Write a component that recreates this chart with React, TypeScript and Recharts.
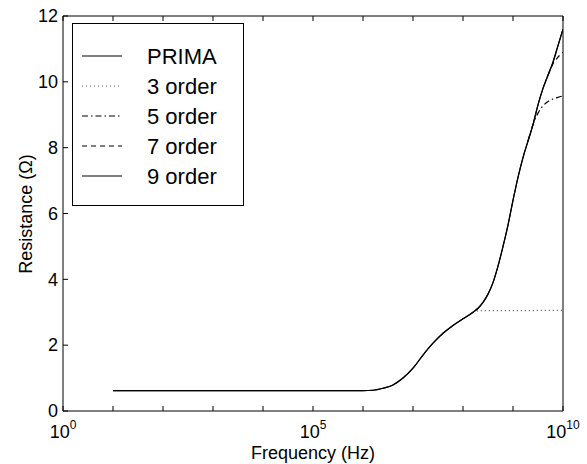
import { LineChart, Line, XAxis, YAxis, Legend } from "recharts";

// log10 of frequency (Hz) for each sample
const exponents = [1, 2, 3, 4, 5, 5.5, 6, 6.2, 6.4, 6.6, 6.8, 7, 7.2, 7.4, 7.6, 7.8, 8, 8.2, 8.3, 8.4, 8.5, 8.6, 8.7, 8.8, 8.9, 9, 9.1, 9.2, 9.3, 9.4, 9.5, 9.6, 9.7, 9.8, 9.9, 10];

const prima = [0.62, 0.62, 0.62, 0.62, 0.62, 0.62, 0.62, 0.63, 0.69, 0.79, 1.0, 1.3, 1.7, 2.06, 2.36, 2.6, 2.8, 3.0, 3.12, 3.3, 3.55, 3.9, 4.4, 5.0, 5.65, 6.4, 7.1, 7.7, 8.2, 8.7, 9.3, 9.8, 10.2, 10.6, 11.1, 11.6];
const order3 = [null, null, null, null, null, null, null, null, null, null, null, null, null, null, null, null, null, 3.0, 3.04, 3.05, 3.05, 3.05, 3.05, 3.05, 3.05, 3.05, 3.05, 3.05, 3.05, 3.05, 3.06, 3.06, 3.06, 3.06, 3.06, 3.06];
const order5 = [null, null, null, null, null, null, null, null, null, null, null, null, null, null, null, null, null, null, null, null, null, null, null, null, null, null, null, null, 8.2, 8.7, 9.05, 9.27, 9.4, 9.48, 9.53, 9.57];
const order7 = [null, null, null, null, null, null, null, null, null, null, null, null, null, null, null, null, null, null, null, null, null, null, null, null, null, null, null, null, null, null, null, null, 10.2, 10.55, 10.75, 10.9];
// 9th order lies on top of PRIMA everywhere
const order9 = [0.62, 0.62, 0.62, 0.62, 0.62, 0.62, 0.62, 0.63, 0.69, 0.79, 1.0, 1.3, 1.7, 2.06, 2.36, 2.6, 2.8, 3.0, 3.12, 3.3, 3.55, 3.9, 4.4, 5.0, 5.65, 6.4, 7.1, 7.7, 8.2, 8.7, 9.3, 9.8, 10.2, 10.6, 11.1, 11.6];

const xTicks = [1, 1e1, 1e2, 1e3, 1e4, 1e5, 1e6, 1e7, 1e8, 1e9, 1e10];
const xLabeled = [0, 5, 10];
const yTicks = [0, 2, 4, 6, 8, 10, 12];

const series = [
  { key: "prima", name: "PRIMA", dash: undefined, color: "#000" },
  { key: "order3", name: "3 order", dash: "1 3", color: "#555" },
  { key: "order5", name: "5 order", dash: "6 3 1.5 3", color: "#000" },
  { key: "order7", name: "7 order", dash: "5 4", color: "#000" },
  { key: "order9", name: "9 order", dash: undefined, color: "#000" }
];

const data = exponents.map((e, i) => ({
  f: Math.pow(10, e),
  prima: prima[i],
  order3: order3[i],
  order5: order5[i],
  order7: order7[i],
  order9: order9[i]
}));

const FONT = "'Liberation Sans', Arial, Helvetica, sans-serif";

function BottomTick({ x, y, payload }: any) {
  const exp = Math.round(Math.log10(payload.value));
  return (
    <g>
      <line x1={x} x2={x} y1={y} y2={y - 5} stroke="#000" />
      {xLabeled.includes(exp) && (
        <text x={x} y={y + 27} textAnchor="middle" fontSize={18} fontFamily={FONT} fill="#000">
          <tspan>10</tspan>
          <tspan dy={-9} fontSize={12}>{exp}</tspan>
        </text>
      )}
    </g>
  );
}

function TopTick({ x, y }: any) {
  return <line x1={x} x2={x} y1={y} y2={y + 5} stroke="#000" />;
}

function LeftTick({ x, y, payload }: any) {
  return (
    <g>
      <line x1={x} x2={x + 5} y1={y} y2={y} stroke="#000" />
      <text x={x - 5} y={y} dy="0.35em" textAnchor="end" fontSize={18} fontFamily={FONT} fill="#000">
        {payload.value}
      </text>
    </g>
  );
}

function RightTick({ x, y }: any) {
  return <line x1={x} x2={x - 5} y1={y} y2={y} stroke="#000" />;
}

function LegendBox() {
  return (
    <svg width={172} height={183} style={{ display: "block" }}>
      <rect x={0.5} y={0.5} width={171} height={182} fill="#fff" stroke="#000" />
      {series.map((s, i) => {
        const cy = 33 + i * 30;
        return (
          <g key={s.key}>
            <line x1={10} x2={50} y1={cy} y2={cy} stroke={s.color} strokeWidth={1.2} strokeDasharray={s.dash} />
            <text x={75} y={cy} dy="0.35em" fontSize={22} fontFamily={FONT} fill="#000">
              {s.name}
            </text>
          </g>
        );
      })}
    </svg>
  );
}

export default function App() {
  return (
    <div style={{ position: "absolute", left: 0, top: 0, width: 587, height: 464, background: "#fff" }}>
      <LineChart width={587} height={464} data={data} margin={{ top: 0, right: 0, bottom: 0, left: 0 }}>
        <XAxis
          dataKey="f"
          type="number"
          scale="log"
          domain={[1, 1e10]}
          ticks={xTicks}
          allowDataOverflow
          height={53}
          tickSize={0}
          tickMargin={0}
          tick={<BottomTick />}
          tickLine={false}
          axisLine={{ stroke: "#000" }}
          interval={0}
          label={(p: any) => {
            const vb = p.viewBox;
            return (
              <text x={vb.x + vb.width / 2} y={459} textAnchor="middle" fontSize={18} fontFamily={FONT} fill="#000">
                Frequency (Hz)
              </text>
            );
          }}
        />
        <XAxis
          xAxisId="top"
          orientation="top"
          dataKey="f"
          type="number"
          scale="log"
          domain={[1, 1e10]}
          ticks={xTicks}
          allowDataOverflow
          height={16}
          tickSize={0}
          tickMargin={0}
          tick={<TopTick />}
          tickLine={false}
          axisLine={{ stroke: "#000" }}
          interval={0}
        />
        <YAxis
          type="number"
          domain={[0, 12]}
          ticks={yTicks}
          width={63}
          tickSize={0}
          tickMargin={0}
          tick={<LeftTick />}
          tickLine={false}
          axisLine={{ stroke: "#000" }}
          interval={0}
          label={() => (
            <text
              x={26}
              y={214}
              dy="0.35em"
              transform="rotate(-90 26 214)"
              textAnchor="middle"
              fontSize={18}
              fontFamily={FONT}
              fill="#000"
            >
              Resistance (Ω)
            </text>
          )}
        />
        <YAxis
          yAxisId="right"
          orientation="right"
          type="number"
          domain={[0, 12]}
          ticks={yTicks}
          width={24}
          tickSize={0}
          tickMargin={0}
          tick={<RightTick />}
          tickLine={false}
          axisLine={{ stroke: "#000" }}
          interval={0}
        />
        <Legend
          layout="horizontal"
          verticalAlign="middle"
          align="center"
          wrapperStyle={{ left: 72, top: 23, width: 172, height: 183 }}
          content={() => <LegendBox />}
        />
        {series.map((s) => (
          <Line
            key={s.key}
            dataKey={s.key}
            name={s.name}
            type="monotone"
            stroke={s.color}
            strokeWidth={1.2}
            strokeDasharray={s.dash}
            dot={false}
            activeDot={false}
            isAnimationActive={false}
          />
        ))}
      </LineChart>
    </div>
  );
}
